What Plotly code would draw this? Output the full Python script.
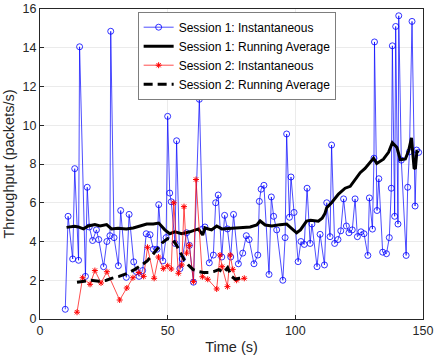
import plotly.graph_objects as go

# Session 1: instantaneous throughput
s1_t = [9.9, 11.0, 12.8, 13.6, 15.1, 15.5, 17.8, 18.5, 19.3, 20.6, 22.1, 23.0, 24.9, 26.2,
        27.4, 27.7, 29.0, 30.7, 31.6, 33.8, 34.9, 36.7, 37.7, 38.8, 40.2, 41.6, 43.1, 44.4,
        45.8, 46.5, 48.1, 49.4, 50.0, 50.8, 51.4, 52.9, 53.5, 54.8, 55.7, 57.4, 58.5, 60.1,
        62.4, 63.7, 64.6, 66.3, 67.9, 68.8, 69.8, 71.2, 72.3, 73.4, 74.7, 75.8, 77.7, 79.4,
        80.8, 81.9, 83.8, 85.3, 85.9, 86.6, 87.7, 89.7, 90.6, 91.5, 92.7, 95.1, 96.0, 96.6,
        97.7, 98.3, 99.5, 101.1, 102.2, 103.5, 104.6, 105.8, 106.5, 108.5, 109.7, 111.4,
        112.3, 113.6, 114.2, 115.4, 116.7, 117.8, 118.9, 120.0, 121.0, 122.3, 123.4, 124.3,
        125.7, 126.9, 128.4, 129.0, 130.2, 130.8, 131.0, 132.0, 132.7, 134.2, 135.7, 136.8,
        137.6, 138.0, 138.9, 139.3, 140.2, 140.5, 141.5, 143.4, 144.0, 144.7, 145.7, 146.9,
        147.5, 148.3]
s1_inst = [0.5, 5.3, 3.1, 7.76, 3.03, 14.05, 2.2, 6.8, 4.75, 4.05, 4.6, 4.1, 2.7, 4.0,
           4.3, 14.85, 4.2, 2.75, 5.6, 2.15, 5.4, 2.95, 2.45, 2.2, 2.5, 4.4, 4.35, 3.6,
           3.6, 5.9, 3.0, 4.2, 10.46, 6.5, 6.05, 3.9, 9.2, 2.6, 3.1, 4.45, 3.8, 1.9,
           11.34, 4.65, 4.75, 2.9, 3.3, 6.0, 6.4, 3.2, 5.35, 4.65, 3.2, 5.4, 2.85, 3.4,
           4.3, 4.1, 2.85, 3.3, 6.07, 6.7, 6.9, 2.3, 6.3, 5.3, 4.6, 2.0, 4.2, 9.55,
           5.25, 7.33, 5.5, 2.96, 4.0, 3.85, 6.75, 3.9, 4.9, 2.7, 4.37, 2.79,
           6.0, 4.25, 8.98, 3.9, 4.1, 4.55, 6.2, 4.8, 4.45, 4.6, 6.2, 4.25,
           4.5, 4.4, 3.28, 6.25, 4.64, 8.3, 14.3, 5.6, 7.24, 3.45, 3.37, 4.2,
           6.75, 14.1, 5.3, 15.1, 4.9, 15.65, 8.2, 3.28, 6.8, 8.63, 15.36, 5.83,
           8.72, 8.6]

# Session 1: running average
s1_avg_t = [10.4, 12.0, 13.5, 15.0, 17.0, 18.9, 21.5, 23.5, 26.1, 28.0, 30.6, 33.8, 36.5,
            39.2, 41.8, 44.4, 46.5, 48.9, 50.8, 52.8, 55.5, 58.7, 62.0, 63.7, 64.6, 67.2,
            69.2, 71.2, 74.4, 77.7, 82.3, 84.9, 86.2, 88.2, 90.8, 94.0, 96.6, 98.5, 100.5,
            102.0, 104.4, 106.0, 109.0, 110.5, 111.6, 112.3, 114.2, 116.9, 119.5, 121.5,
            123.4, 125.4, 127.3, 129.0, 130.6, 131.9, 134.5, 136.5, 138.0, 139.8, 141.1,
            143.1, 144.4, 145.5, 146.1, 146.5, 147.0, 147.6, 148.3]
s1_avg = [4.73, 4.78, 4.79, 4.75, 4.65, 4.8, 4.87, 4.8, 4.87, 4.65, 4.68, 4.65, 4.7,
          4.8, 4.9, 4.9, 4.95, 4.6, 4.4, 4.5, 4.4, 4.5, 4.65, 4.34, 4.7, 4.6,
          4.8, 4.65, 4.67, 4.7, 4.75, 4.85, 5.06, 4.85, 4.8, 4.87, 4.9, 4.68, 4.45,
          4.6, 5.05, 5.1, 5.05, 5.2, 5.45, 5.75, 6.0, 6.45, 6.75, 6.85,
          7.17, 7.55, 7.77, 8.07, 8.3, 8.03, 8.25, 8.6, 9.1, 8.85, 8.22,
          8.26, 8.7, 9.35, 8.6, 7.8, 7.75, 8.64, 8.6]

# Session 2: instantaneous throughput
s2_t = [14.5, 16.7, 19.6, 21.5, 23.9, 26.2, 31.2, 34.0, 36.4, 38.7, 40.6, 42.1, 44.7,
        46.4, 48.3, 50.0, 51.4, 52.4, 54.2, 55.5, 56.4, 57.4, 58.5, 60.1, 61.1, 63.6,
        65.7, 69.2, 70.5, 71.3, 73.4, 74.5, 75.5, 77.0, 80.0]
s2_inst = [0.35, 2.13, 1.79, 2.5, 1.86, 2.44, 0.98, 1.6, 2.13, 2.4, 2.2, 3.7, 2.1,
           3.2, 2.6, 2.75, 2.58, 6.0, 2.36, 2.79, 5.8, 3.4, 3.8, 1.93, 7.2, 2.18,
           2.05, 1.55, 3.3, 2.7, 1.67, 3.3, 2.56, 2.0, 2.1]

# Session 2: running average
s2_avg_t = [14.5, 17.0, 20.0, 23.0, 26.0, 28.0, 31.0, 34.0, 37.0, 40.0, 42.0, 44.0, 46.0,
            48.0, 50.0, 52.0, 53.5, 55.0, 56.5, 58.0, 60.0, 62.0, 64.0, 66.0, 68.0, 70.0,
            72.0, 73.5, 75.0, 76.5, 78.0, 80.0]
s2_avg = [1.9, 1.95, 2.0, 1.95, 2.0, 2.1, 2.2, 2.35, 2.55, 2.8, 3.0, 3.3, 3.6,
          3.95, 4.15, 4.1, 3.8, 3.4, 3.05, 2.8, 2.55, 2.45, 2.4, 2.4, 2.45, 2.55,
          2.4, 2.65, 2.2, 2.05, 2.1, 2.1]

INK = '#262626'

fig = go.Figure()
fig.add_trace(go.Scatter(x=s1_t, y=s1_inst, mode='lines+markers',
    name='Session 1: Instantaneous',
    line=dict(color='#0000ff', width=0.7),
    marker=dict(symbol='circle-open', size=6, color='#0000ff', line=dict(width=0.8))))
fig.add_trace(go.Scatter(x=s1_avg_t, y=s1_avg, mode='lines',
    name='Session 1: Running Average',
    line=dict(color='black', width=3)))
fig.add_trace(go.Scatter(x=s2_t, y=s2_inst, mode='lines+markers',
    name='Session 2: Instantaneous',
    line=dict(color='#ff0000', width=0.7),
    marker=dict(symbol='asterisk-open', size=5, color='#ff0000', line=dict(width=1, color='#ff0000'))))
fig.add_trace(go.Scatter(x=s2_avg_t, y=s2_avg, mode='lines',
    name='Session 2: Running Average',
    line=dict(color='black', width=3, dash='9px,5px')))

axis_style = dict(
    showgrid=True, gridcolor='#ebebeb', gridwidth=1,
    showline=True, linecolor=INK, linewidth=1, mirror=True,
    ticks='inside', ticklen=4, tickcolor=INK, automargin=False,
    zeroline=False, tickfont=dict(size=12.5, color=INK),
)

fig.update_xaxes(range=[0, 150], dtick=50, tick0=0,
                 title=dict(text='Time (s)', font=dict(size=14.5, color=INK), standoff=4),
                 **axis_style)
fig.update_yaxes(range=[0, 16], dtick=2, tick0=0,
                 title=dict(text='Throughput (packets/s)', font=dict(size=14.5, color=INK), standoff=4),
                 **axis_style)

fig.update_layout(
    width=436, height=363,
    margin=dict(l=40, r=13, t=9, b=44),
    paper_bgcolor='white', plot_bgcolor='white',
    font=dict(family='Liberation Sans, Arial, sans-serif', color=INK, size=12),
    legend=dict(x=0.256, y=0.99, xanchor='left', yanchor='top',
                bgcolor='white', bordercolor=INK, borderwidth=0.6,
                font=dict(size=12, color='black'), tracegroupgap=0),
)

# drop the page's default body margin so the figure sits at the window's corner
fig.write_html("out.html", config={'displayModeBar': False},
               post_script="document.body.style.margin='0px';")
